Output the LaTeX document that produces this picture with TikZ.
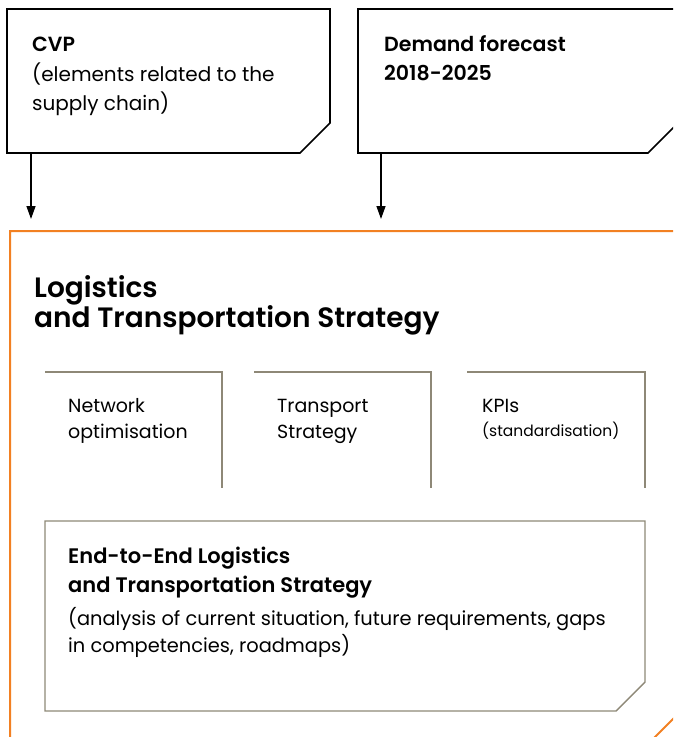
\documentclass[tikz,border=0pt]{standalone}
\usepackage{fontspec}
\setmainfont{Poppins}[BoldFont={Poppins SemiBold}]
\usetikzlibrary{arrows.meta}
\definecolor{frameorange}{HTML}{F28022}
\definecolor{linegray}{HTML}{8E8877}
\begin{document}
\begin{tikzpicture}[x=1pt,y=-1pt,
  inputbox/.style={draw=black,line width=1.7pt},
  subbox/.style={draw=linegray,line width=1.4pt},
  frame/.style={draw=frameorange,line width=2pt},
  feed/.style={draw=black,line width=1.4pt,-{Triangle[length=13pt,width=9pt]}},
  label/.style={anchor=base west,inner sep=0pt},
  inputtxt/.style={label,font=\fontsize{20}{24}\selectfont},
  inputhead/.style={label,font=\fontsize{20.5}{24}\selectfont\bfseries},
  title/.style={label,font=\fontsize{28}{32}\selectfont\bfseries},
  streamtxt/.style={label,font=\fontsize{19}{23}\selectfont},
  small/.style={label,font=\fontsize{15.5}{18}\selectfont},
  e2ehead/.style={label,font=\fontsize{21}{24}\selectfont\bfseries},
  e2etxt/.style={label,font=\fontsize{19.4}{23}\selectfont}]
\useasboundingbox (0,0) rectangle (673,737);
\clip (0,0) rectangle (673,737);

% input boxes with a cut bottom-right corner
\draw[inputbox] (7,9) -- (330,9) -- (330,123) -- (300,153) -- (7,153) -- cycle;
\draw[inputbox] (358,9) -- (681,9) -- (681,120) -- (648,153) -- (358,153) -- cycle;
\coordinate (cvpout) at (31,153);
\coordinate (cvpin) at (31,219);
\coordinate (dfout) at (381,153);
\coordinate (dfin) at (381,219);
\draw[feed] (cvpout) -- (cvpin);
\draw[feed] (dfout) -- (dfin);

\node[inputhead] (cvp) at (32,51) {CVP};
\node[inputtxt] (cvp1) at (32,81) {(elements related to the};
\node[inputtxt] (cvp2) at (32,110) {supply chain)};
\node[inputhead] (df1) at (384,51) {Demand forecast};
\node[inputhead] (df2) at (384,80) {2018-2025};

% strategy frame
\draw[frame] (10,231) -- (690,231) -- (690,702) -- (647,745) -- (10,745) -- cycle;
\node[title] (t1) at (34,297) {Logistics};
\node[title] (t2) at (34,327) {and Transportation Strategy};

% workstreams
\draw[subbox] (45,372) -- (222,372) -- (222,488);
\draw[subbox] (254,372) -- (431,372) -- (431,488);
\draw[subbox] (467,372) -- (645,372) -- (645,488);
\node[streamtxt] (n1) at (68,412) {Network};
\node[streamtxt] (n2) at (68,438) {optimisation};
\node[streamtxt] (ts1) at (277,412) {Transport};
\node[streamtxt] (ts2) at (277,438) {Strategy};
\node[streamtxt] (k1) at (482,412) {KPIs};
\node[small] (k2) at (482,436) {(standardisation)};

% end-to-end box
\draw[subbox] (45,521) -- (645,521) -- (645,682) -- (616,711) -- (45,711) -- cycle;
\node[e2ehead] (e1) at (68,563) {End-to-End Logistics};
\node[e2ehead] (e2) at (68,592) {and Transportation Strategy};
\node[e2etxt] (e3) at (68,625) {(analysis of current situation, future requirements, gaps};
\node[e2etxt] (e4) at (68,652) {in competencies, roadmaps)};
\end{tikzpicture}
\end{document}
